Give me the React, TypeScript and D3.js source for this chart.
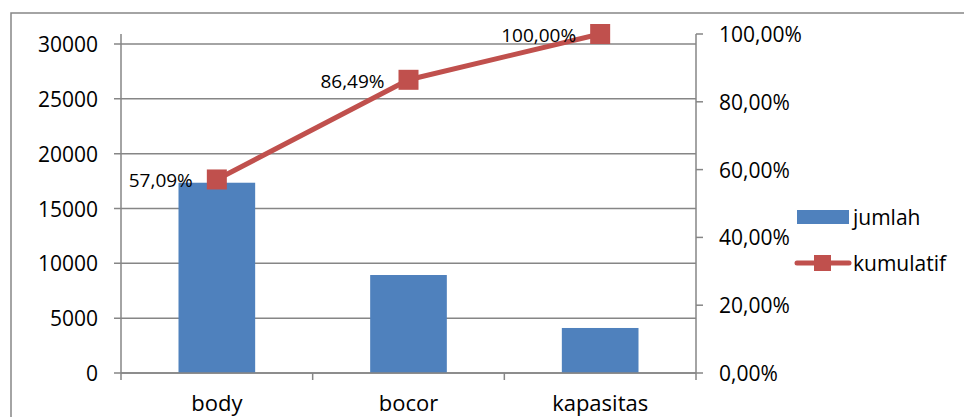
import React, { useEffect, useRef } from "react";
import * as d3 from "d3";

// kategori cacat dan jumlahnya
const categories = ["body", "bocor", "kapasitas"];
const jumlah = [17350, 8935, 4105];
const kumulatif = [57.09, 86.49, 100.0];
const leftTicks = [0, 5000, 10000, 15000, 20000, 25000, 30000];
const rightTicks = [0, 20, 40, 60, 80, 100];
const seriesNames = ["jumlah", "kumulatif"];

const W = 964;
const H = 417;
const FONT = "'Open Sans', sans-serif";
const GRAY = "#868686";
const BLUE = "#4F81BD";
const RED = "#C0504D";

const fmtPct = (v: number) => v.toFixed(2).replace(".", ",") + "%";

const App: React.FC = () => {
  const svgRef = useRef<SVGSVGElement>(null);

  useEffect(() => {
    if (!svgRef.current) return;
    const svg = d3.select(svgRef.current);
    svg.selectAll("*").remove();

    // area plot
    const plot = { left: 121, right: 696, top: 34, bottom: 373 };

    const x = d3
      .scaleBand()
      .domain(categories)
      .range([plot.left, plot.right])
      .padding(0);
    const yLeft = d3.scaleLinear().domain([0, 30000]).range([plot.bottom, 44]);
    const yRight = d3.scaleLinear().domain([0, 100]).range([plot.bottom, plot.top]);

    // bingkai luar
    svg
      .append("rect")
      .attr("x", 11)
      .attr("y", 13)
      .attr("width", W)
      .attr("height", H)
      .attr("fill", "white")
      .attr("stroke", GRAY)
      .attr("stroke-width", 1.5);

    // garis grid
    svg
      .append("g")
      .selectAll("line")
      .data(leftTicks)
      .join("line")
      .attr("x1", plot.left - 7)
      .attr("x2", plot.right)
      .attr("y1", (d) => yLeft(d))
      .attr("y2", (d) => yLeft(d))
      .attr("stroke", GRAY)
      .attr("stroke-width", 1.5);

    // label sumbu kiri
    svg
      .append("g")
      .selectAll("text")
      .data(leftTicks)
      .join("text")
      .attr("x", 98)
      .attr("y", (d) => yLeft(d))
      .attr("text-anchor", "end")
      .attr("dominant-baseline", "central")
      .style("font-family", FONT)
      .style("font-size", "21px")
      .text((d) => String(d));

    // batang jumlah
    const bw = x.bandwidth();
    svg
      .append("g")
      .selectAll("rect")
      .data(categories)
      .join("rect")
      .attr("x", (d) => (x(d) || 0) + bw * 0.3)
      .attr("width", bw * 0.4)
      .attr("y", (_, i) => yLeft(jumlah[i]))
      .attr("height", (_, i) => plot.bottom - yLeft(jumlah[i]))
      .attr("fill", BLUE);

    // sumbu
    const axes = svg.append("g").attr("stroke", GRAY).attr("stroke-width", 1.5);
    axes
      .append("line")
      .attr("x1", plot.left)
      .attr("x2", plot.left)
      .attr("y1", plot.top)
      .attr("y2", plot.bottom + 7);
    axes
      .append("line")
      .attr("x1", plot.right)
      .attr("x2", plot.right)
      .attr("y1", plot.top)
      .attr("y2", plot.bottom + 7);
    axes
      .append("line")
      .attr("x1", plot.left)
      .attr("x2", plot.right)
      .attr("y1", plot.bottom)
      .attr("y2", plot.bottom);
    // tick kategori
    categories.slice(1).forEach((c) => {
      axes
        .append("line")
        .attr("x1", x(c) || 0)
        .attr("x2", x(c) || 0)
        .attr("y1", plot.bottom)
        .attr("y2", plot.bottom + 7);
    });
    // tick kanan
    rightTicks.forEach((t) => {
      axes
        .append("line")
        .attr("x1", plot.right)
        .attr("x2", plot.right + 7)
        .attr("y1", yRight(t))
        .attr("y2", yRight(t));
    });

    // label sumbu kanan
    svg
      .append("g")
      .selectAll("text")
      .data(rightTicks)
      .join("text")
      .attr("x", 719)
      .attr("y", (d) => yRight(d))
      .attr("dominant-baseline", "central")
      .style("font-family", FONT)
      .style("font-size", "21px")
      .text((d) => fmtPct(d));

    // label kategori
    svg
      .append("g")
      .selectAll("text")
      .data(categories)
      .join("text")
      .attr("x", (d) => (x(d) || 0) + bw / 2)
      .attr("y", 411)
      .attr("text-anchor", "middle")
      .style("font-family", FONT)
      .style("font-size", "22px")
      .text((d) => d);

    // garis kumulatif
    const line = d3
      .line<number>()
      .x((_, i) => (x(categories[i]) || 0) + bw / 2)
      .y((d) => yRight(d));
    svg
      .append("path")
      .datum(kumulatif)
      .attr("d", line)
      .attr("fill", "none")
      .attr("stroke", RED)
      .attr("stroke-width", 5)
      .attr("stroke-linejoin", "round");

    const ms = 20;
    svg
      .append("g")
      .selectAll("rect")
      .data(kumulatif)
      .join("rect")
      .attr("x", (_, i) => (x(categories[i]) || 0) + bw / 2 - ms / 2)
      .attr("y", (d) => yRight(d) - ms / 2)
      .attr("width", ms)
      .attr("height", ms)
      .attr("fill", RED);

    // label data
    svg
      .append("g")
      .selectAll("text")
      .data(kumulatif)
      .join("text")
      .attr("x", (_, i) => (x(categories[i]) || 0) + bw / 2 - 24)
      .attr("y", (d) => yRight(d) + 1)
      .attr("text-anchor", "end")
      .attr("dominant-baseline", "central")
      .style("font-family", FONT)
      .style("font-size", "19px")
      .text((d) => fmtPct(d));

    // legenda
    const legend = svg.append("g");
    legend
      .append("rect")
      .attr("x", 797)
      .attr("y", 210)
      .attr("width", 52)
      .attr("height", 14)
      .attr("fill", BLUE);
    legend
      .append("line")
      .attr("x1", 797)
      .attr("x2", 849)
      .attr("y1", 263)
      .attr("y2", 263)
      .attr("stroke", RED)
      .attr("stroke-width", 5)
      .attr("stroke-linecap", "round");
    legend
      .append("rect")
      .attr("x", 814)
      .attr("y", 255)
      .attr("width", 17)
      .attr("height", 16)
      .attr("fill", RED);
    legend
      .selectAll("text")
      .data(seriesNames)
      .join("text")
      .attr("x", 853)
      .attr("y", (_, i) => (i === 0 ? 217 : 263))
      .attr("dominant-baseline", "central")
      .style("font-family", FONT)
      .style("font-size", "21px")
      .text((d) => d);
  }, []);

  return (
    <svg
      ref={svgRef}
      width={W}
      height={H}
      style={{ position: "absolute", left: 0, top: 0, background: "white" }}
    />
  );
};

export default App;
